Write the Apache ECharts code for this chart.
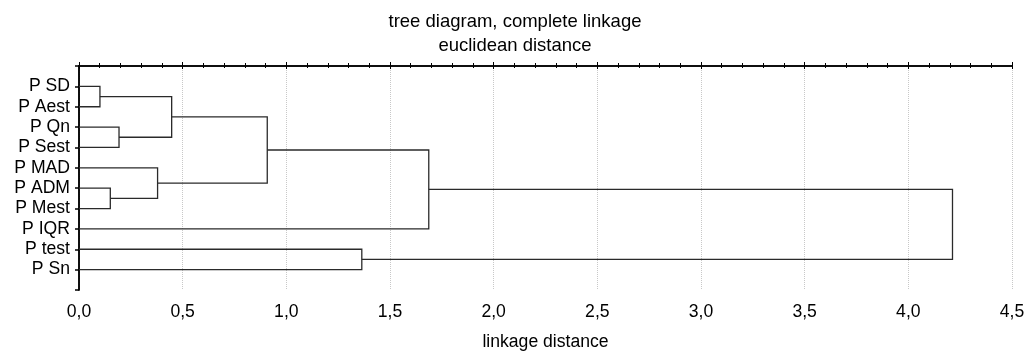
<!DOCTYPE html>
<html>
<head>
<meta charset="utf-8">
<script src="https://cdn.jsdelivr.net/npm/echarts@6/dist/echarts.min.js"></script>
<style>html,body{margin:0;padding:0;background:#fff}#c{width:1030px;height:356px}</style>
</head>
<body>
<div id="c"></div>
<script>
// Leaves in display order (top to bottom)
const leaves = ['P SD', 'P Aest', 'P Qn', 'P Sest', 'P MAD', 'P ADM', 'P Mest', 'P IQR', 'P test', 'P Sn'];
// Merges: node ids 0..9 are leaves, each merge creates node 10, 11, ...
const mergeLeft  = [0, 2, 5, 10, 4, 13, 15, 8, 16];
const mergeRight = [1, 3, 6, 11, 12, 14, 7, 9, 17];
const mergeHeight = [0.101, 0.193, 0.151, 0.447, 0.379, 0.908, 1.687, 1.364, 4.213];
const xTicks = [0, 0.5, 1, 1.5, 2, 2.5, 3, 3.5, 4, 4.5];

const FONT = '"Liberation Sans", Arial, sans-serif';
const FS = 17.6;
const FS_TITLE = 18.5;

// node positions: leaf i at row i+1, height 0
const nodeY = leaves.map((_, i) => i + 1);
const nodeH = leaves.map(() => 0);
const segs = [];
for (let k = 0; k < mergeLeft.length; k++) {
  const a = mergeLeft[k], b = mergeRight[k], H = mergeHeight[k];
  segs.push({coords: [[nodeH[a], nodeY[a]], [H, nodeY[a]], [H, nodeY[b]], [nodeH[b], nodeY[b]]]});
  nodeY.push((nodeY[a] + nodeY[b]) / 2);
  nodeH.push(H);
}

const chart = echarts.init(document.getElementById('c'));
const fmtX = v => v.toFixed(1).replace('.', ',');
chart.setOption({
  animation: false,
  backgroundColor: '#fff',
  title: {
    text: 'tree diagram, complete linkage\neuclidean distance',
    left: 'center', top: 5,
    textStyle: {fontFamily: FONT, fontSize: FS_TITLE, fontWeight: 'normal', color: '#000', lineHeight: 24}
  },
  grid: {left: 79, right: 18, top: 66, bottom: 64},
  xAxis: [{
    type: 'value', min: xTicks[0], max: xTicks[xTicks.length - 1], interval: 0.5, position: 'bottom',
    name: 'linkage distance', nameLocation: 'middle', nameGap: 43,
    nameTextStyle: {fontFamily: FONT, fontSize: FS, color: '#000'},
    axisLine: {show: true, lineStyle: {color: '#000', width: 1.5}},
    axisTick: {show: true, inside: true, length: 4, lineStyle: {color: '#000'}},
    minorTick: {show: true, splitNumber: 5, length: 3, lineStyle: {color: '#000'}},
    axisLabel: {formatter: fmtX, fontFamily: FONT, fontSize: FS, color: '#000', margin: 13},
    splitLine: {show: true, lineStyle: {color: '#c8c8c8', type: 'dotted', width: 1}}
  }, {
    type: 'value', min: xTicks[0], max: xTicks[xTicks.length - 1], interval: 0.5, position: 'top',
    axisLine: {show: true, lineStyle: {color: '#000', width: 1.5}},
    axisTick: {show: true, inside: true, length: 3, lineStyle: {color: '#000'}},
    minorTick: {show: true, splitNumber: 5, length: 2, lineStyle: {color: '#000'}},
    axisLabel: {show: false},
    splitLine: {show: false}
  }],
  yAxis: [{
    type: 'value', min: 0, max: 11, interval: 1, inverse: true, position: 'left',
    axisLine: {show: true, lineStyle: {color: '#000', width: 1.5}},
    axisTick: {show: false},
    axisLabel: {
      formatter: v => (v >= 1 && v <= leaves.length) ? leaves[v - 1] : '',
      fontFamily: FONT, fontSize: FS, color: '#000', margin: 9
    },
    splitLine: {show: false}
  }, {
    type: 'value', min: 0, max: 11, interval: 1, inverse: true, position: 'right',
    axisLine: {show: true, lineStyle: {color: '#000', width: 1.5}},
    axisTick: {show: true, inside: true, length: 4, lineStyle: {color: '#000', width: 1.5}},
    axisLabel: {show: false},
    splitLine: {show: false}
  }],
  series: [{
    type: 'lines', coordinateSystem: 'cartesian2d', xAxisIndex: 0, yAxisIndex: 0,
    polyline: true, silent: true,
    lineStyle: {color: '#2a2a2a', width: 1.3, opacity: 1},
    data: segs
  }]
});
</script>
</body>
</html>
